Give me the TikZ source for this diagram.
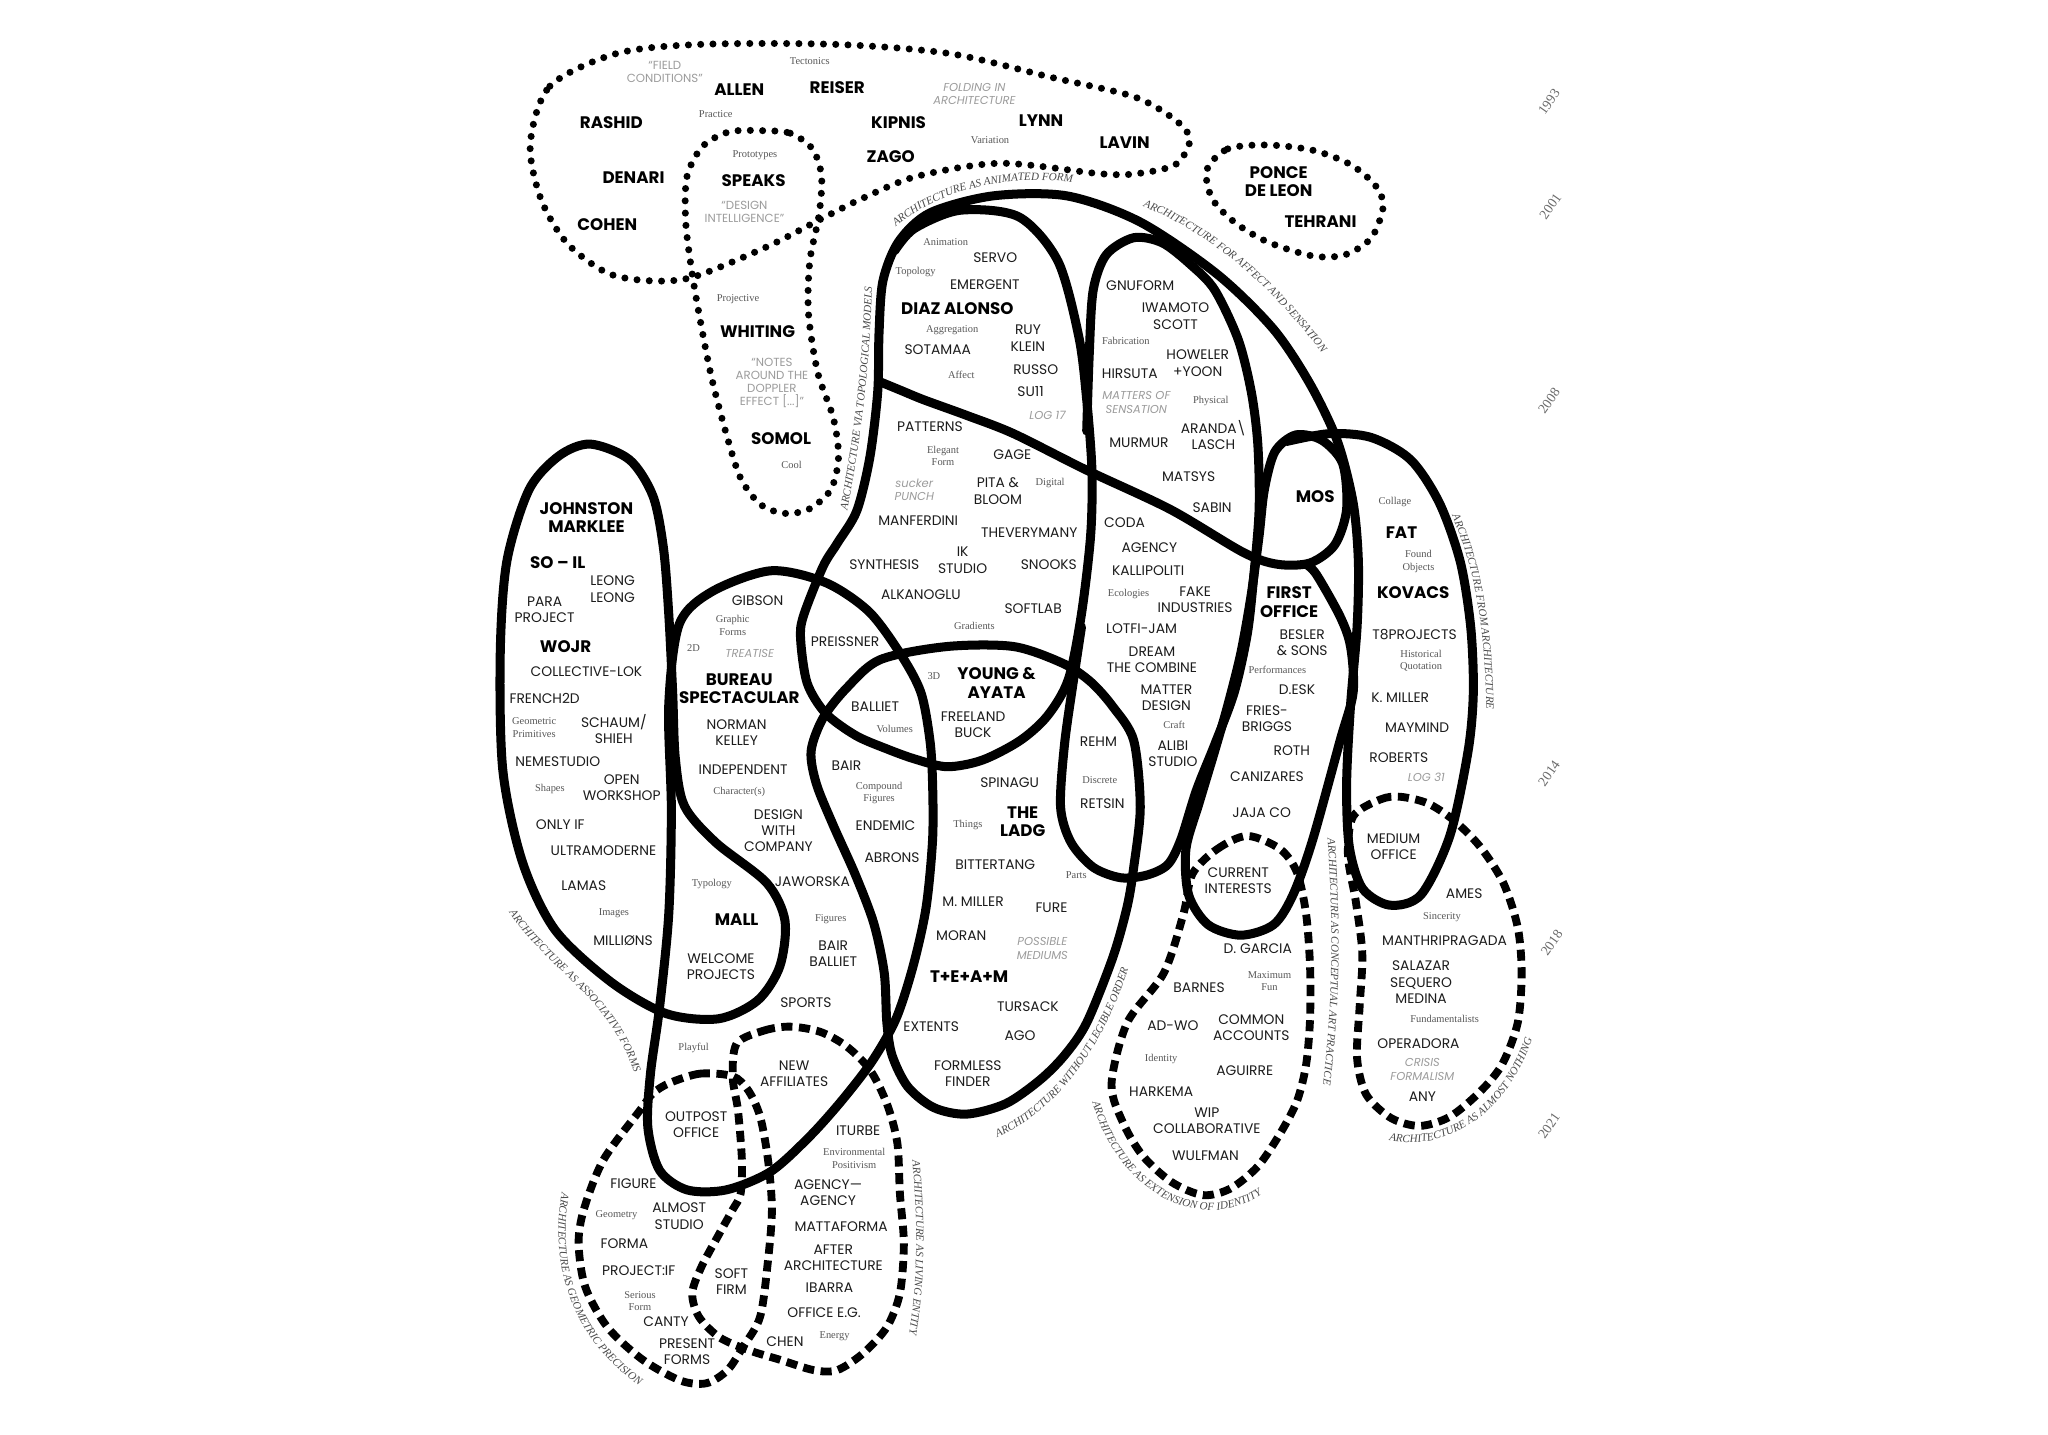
\documentclass[tikz,border=0pt]{standalone}
\usepackage{fontspec}
\usetikzlibrary{decorations.text}
\newfontfamily\popf{Poppins}
\newfontfamily\serf{Liberation Serif}
\definecolor{namec}{HTML}{1C1C1C}
\definecolor{grayl}{HTML}{9C9C9C}
\definecolor{serc}{HTML}{585858}
\definecolor{curvc}{HTML}{4A4A4A}
\definecolor{yearc}{HTML}{6A6A6A}
\newcommand\nmf{\popf\fontsize{10.6}{12.5}\selectfont}
\newcommand\bnf{\popf\bfseries\fontsize{12.8}{14}\selectfont}
\newcommand\srf{\serf\fontsize{8}{9.6}\selectfont}
\newcommand\grf{\popf\fontsize{9}{10}\selectfont}
\newcommand\gif{\popf\itshape\fontsize{8.8}{10.5}\selectfont}
\newcommand\cvf{\serf\itshape\fontsize{8.5}{9}\selectfont}
\newcommand\yrf{\serf\fontsize{10.5}{12}\selectfont}
\tikzset{
  nm/.style={font=\nmf, text=namec, align=center, inner sep=0pt},
  bn/.style={font=\bnf, text=black, align=center, inner sep=0pt},
  sr/.style={font=\srf, text=serc, align=center, inner sep=0pt},
  gr/.style={font=\grf, text=grayl, align=center, inner sep=0pt},
  gi/.style={font=\gif, text=grayl, align=center, inner sep=0pt},
  yr/.style={font=\yrf, text=yearc, rotate=55, inner sep=0pt},
  solidloop/.style={draw=black, line width=6.9pt, line cap=round, line join=round},
  dotloop/.style={draw=black, line width=5.4pt, line cap=round, dash pattern=on 0pt off 9.4pt},
  dashloop/.style={draw=black, line width=6pt, dash pattern=on 8.5pt off 5pt},
  curvelabel/.style={decorate, decoration={text along path, text align=center, text color=curvc, text={|\cvf|#1}}}
}
\begin{document}
\begin{tikzpicture}[x=1pt,y=-1pt]
\fill[white] (0,0) rectangle (1568,1098);
\useasboundingbox (0,0) rectangle (1568,1098);

% ---------- dotted loops ----------
\draw[dotloop] plot[smooth cycle] coordinates {(406,110) (421,66) (472,41) (536,34) (640,34) (727,41) (804,59) (868,74) (900,92) (911,107) (900,126) (870,133) (842,133) (766,125) (702,135) (660,152) (628,168) (587,189) (531,212) (498,215) (465,209) (434,186) (414,152)};
\draw[dotloop] plot[smooth cycle] coordinates {(582,100) (605,102) (622,114) (629,135) (627,165) (620,200) (619,240) (626,285) (638,320) (642,350) (636,375) (619,390) (600,393) (582,386) (567,366) (556,332) (545,290) (537,250) (530,210) (525,170) (526,135) (538,112) (558,101)};
\draw[dotloop] plot[smooth cycle] coordinates {(924,130) (940,114) (970,111) (1005,115) (1034,126) (1053,142) (1059,158) (1050,182) (1030,195) (1005,196) (970,185) (945,170) (928,152)};

% ---------- dashed loops ----------
\draw[dashloop] plot[smooth cycle] coordinates {(913,669) (932,650) (955,640) (980,650) (993,668) (1000,700) (1003,740) (1003,780) (1000,815) (993,843) (980,868) (963,893) (942,910) (921,915) (897,905) (875,885) (860,860) (851,830) (863,783) (891,745) (906,700)};
\draw[dashloop] plot[smooth cycle] coordinates {(1036,625) (1057,612) (1072,610) (1093,615) (1113,628) (1133,648) (1151,676) (1162,710) (1165,745) (1162,783) (1150,815) (1133,836) (1110,855) (1087,862) (1065,856) (1046,838) (1039,810) (1041,770) (1043,730) (1038,690) (1032,655)};
\draw[dashloop] plot[smooth cycle] coordinates {(561,824) (536,822) (513,829) (500,837) (490,850) (462,888) (447,926) (443,952) (448,985) (465,1016) (492,1041) (521,1057) (541,1059) (557,1049) (569,1031) (582,1008) (588,965) (591,926) (588,888) (582,855) (573,835)};
\draw[dashloop] plot[smooth cycle] coordinates {(564,799) (585,789) (605,786) (628,790) (648,801) (666,819) (679,845) (687,875) (689,914) (692,952) (689,990) (679,1016) (661,1036) (641,1049) (623,1049) (597,1041) (574,1034) (551,1024) (535,1008) (530,990) (537,970) (551,944) (561,926) (567,914) (568,888) (565,850) (561,825)};

% ---------- solid loops ----------
\draw[solidloop] plot[smooth cycle] coordinates {(452,340) (482,352) (500,380) (508,420) (512,470) (515,530) (517,580) (524,617) (548,645) (587,676) (601,705) (597,740) (580,766) (550,780) (510,776) (468,752) (425,712) (400,660) (385,590) (383,500) (388,430) (405,375) (428,349)};
\draw[solidloop] plot[smooth cycle] coordinates {(520,478) (545,453) (590,437) (632,446) (665,468) (689,500) (705,530) (712,567) (714,600) (714,643) (709,695) (699,740) (686,780) (668,812) (645,842) (620,870) (590,897) (556,911) (526,911) (505,896) (496,863) (498,822) (505,771) (512,700) (514,620) (512,540)};
\draw[solidloop] plot[smooth cycle] coordinates {(674,505) (725,495) (776,495) (814,508) (835,522) (852,541) (868,567) (873,618) (868,664) (863,694) (852,733) (832,783) (815,808) (796,827) (770,845) (740,853) (715,848) (695,832) (683,808) (679,783) (677,745) (669,707) (655,670) (638,632) (625,600) (621,575) (630,550) (648,527)};
\draw[solidloop] plot[smooth] coordinates {(985,338) (1018,332) (1050,335) (1080,352) (1102,385) (1118,430) (1126,480) (1128,530) (1124,575) (1110,640) (1088,685) (1064,693) (1043,680) (1033,648) (1031,600) (1034,540) (1039,480) (1040,430) (1036,385) (1024,338) (1003,294) (975,252) (932,210) (873,170) (817,150) (760,150) (712,163) (688,185) (676,215) (673,255) (672,300) (666,350) (656,391) (641,416) (630,434) (615,472) (613,490) (618,523) (632,546) (655,563) (678,573) (700,581) (725,587) (752,582) (781,567) (802,548) (818,520) (828,470) (835,410) (836,360) (832,306) (826,258) (810,200) (780,166) (735,161) (700,175) (685,192)};
\draw[solidloop] plot[smooth] coordinates {(673,292) (690,299) (707,306) (740,318) (776,332) (832,360) (896,390) (952,423) (978,432) (1003,431) (1022,417) (1031,390) (1028,355) (1012,337) (992,333) (976,346) (968,375) (964,410) (958,455) (950,500) (940,540) (930,575) (918,615) (908,650) (910,685) (925,708) (950,716) (975,708) (990,685) (1005,643) (1026,567) (1036,530) (1034,495) (1026,472) (1008,440) (1000,432)};
\draw[solidloop] plot[smooth] coordinates {(832,330) (834,270) (837,222) (847,195) (868,182) (890,186) (912,203) (930,222) (948,260) (958,300) (963,340) (964,390) (960,440) (955,485) (945,530) (930,570) (916,605) (904,643) (894,662) (878,670) (858,672) (837,664) (820,645) (812,618) (815,570) (822,520) (828,480)};

% ---------- curved labels ----------
\path[curvelabel={ARCHITECTURE AS ANIMATED FORM}] (670,192) .. controls (700,147) and (775,127) .. (845,144);
\path[curvelabel={ARCHITECTURE FOR AFFECT AND SENSATION}] (852,151) .. controls (917,166) and (982,224) .. (1026,290);
\path[curvelabel={ARCHITECTURE VIA TOPOLOGICAL MODELS}] (645,410) .. controls (659,340) and (667,280) .. (668,200);
\path[curvelabel={ARCHITECTURE FROM ARCHITECTURE}] (1104,380) .. controls (1127,420) and (1139,480) .. (1138,560);
\path[curvelabel={ARCHITECTURE AS ASSOCIATIVE FORMS}] (380,682) .. controls (411,744) and (472,757) .. (491,840);
\path[curvelabel={ARCHITECTURE WITHOUT LEGIBLE ORDER}] (744,878) .. controls (800,862) and (845,812) .. (870,722);
\path[curvelabel={ARCHITECTURE AS CONCEPTUAL ART PRACTICE}] (1015,620) .. controls (1021,700) and (1022,770) .. (1010,852);
\path[curvelabel={ARCHITECTURE AS EXTENSION OF IDENTITY}] (831,815) .. controls (840,912) and (930,964) .. (988,895);
\path[curvelabel={ARCHITECTURE AS ALMOST NOTHING}] (1046,868) .. controls (1098,890) and (1160,858) .. (1178,778);
\path[curvelabel={ARCHITECTURE AS GEOMETRIC PRECISION}] (436,890) .. controls (412,965) and (440,1040) .. (510,1072);
\path[curvelabel={ARCHITECTURE AS LIVING ENTITY}] (696,868) .. controls (703,920) and (705,985) .. (692,1042);

% ---------- years ----------
\node[yr] (y1993) at (1186,78) {1993};
\node[yr] (y2001) at (1187,158) {2001};
\node[yr] (y2008) at (1186,307) {2008};
\node[yr] (y2014) at (1186,592) {2014};
\node[yr] (y2018) at (1188,722) {2018};
\node[yr] (y2021) at (1186,862) {2021};

% ---------- top ----------
\node[gr] (fieldc) at (509,55) {“FIELD\\CONDITIONS”};
\node[sr] (tecto) at (620,47) {Tectonics};
\node[bn] (allen) at (566,69) {ALLEN};
\node[bn] (reiser) at (641,67) {REISER};
\node[gi] (folding) at (746,72) {FOLDING IN\\ARCHITECTURE};
\node[bn] (rashid) at (468,94) {RASHID};
\node[sr] (practice) at (548,87) {Practice};
\node[bn] (kipnis) at (688,94) {KIPNIS};
\node[bn] (lynn) at (797,92) {LYNN};
\node[sr] (variation) at (758,107) {Variation};
\node[bn] (lavin) at (861,109) {LAVIN};
\node[bn] (zago) at (682,120) {ZAGO};
\node[sr] (prototypes) at (578,119) {Prototypes};
\node[bn] (speaks) at (577,138) {SPEAKS};
\node[bn] (denari) at (485,136) {DENARI};
\node[gr] (designint) at (570,162) {“DESIGN\\INTELLIGENCE”};
\node[bn] (cohen) at (465,172) {COHEN};
\node[bn] (ponce) at (979,139) {PONCE\\DE LEON};
\node[bn] (tehrani) at (1011,170) {TEHRANI};
\node[sr] (projective) at (565,229) {Projective};
\node[bn] (whiting) at (580,254) {WHITING};
\node[gr] (notes) at (591,293) {“NOTES\\AROUND THE\\DOPPLER\\EFFECT [...]”};
\node[bn] (somol) at (598,336) {SOMOL};
\node[sr] (cool) at (606,356) {Cool};

% ---------- animated form ----------
\node[sr] (animation) at (724,185) {Animation};
\node[nm] (servo) at (762,197) {SERVO};
\node[sr] (topology) at (701,208) {Topology};
\node[nm] (emergent) at (754,218) {EMERGENT};
\node[bn] (diaz) at (733,236) {DIAZ ALONSO};
\node[sr] (aggregation) at (729,253) {Aggregation};
\node[nm] (ruyklein) at (787,259) {RUY\\KLEIN};
\node[nm] (sotamaa) at (718,268) {SOTAMAA};
\node[nm] (russo) at (793,283) {RUSSO};
\node[sr] (affect) at (736,287) {Affect};
\node[nm] (su11) at (789,300) {SU11};
\node[gi] (log17) at (802,318) {LOG 17};
\node[nm] (patterns) at (712,327) {PATTERNS};
\node[sr] (elegant) at (722,349) {Elegant\\Form};
\node[nm] (gage) at (775,348) {GAGE};
\node[gi] (sucker) at (700,375) {sucker\\PUNCH};
\node[nm] (pita) at (764,376) {PITA \&\\BLOOM};
\node[sr] (digital) at (804,370) {Digital};
\node[nm] (manferdini) at (703,399) {MANFERDINI};
\node[nm] (theverymany) at (788,408) {THEVERYMANY};
\node[nm] (ikstudio) at (737,429) {IK\\STUDIO};
\node[nm] (synthesis) at (677,432) {SYNTHESIS};
\node[nm] (snooks) at (803,432) {SNOOKS};
\node[nm] (alkanoglu) at (705,455) {ALKANOGLU};
\node[nm] (softlab) at (791,466) {SOFTLAB};
\node[sr] (gradients) at (746,479) {Gradients};

% ---------- affect and sensation ----------
\node[nm] (gnuform) at (873,219) {GNUFORM};
\node[nm] (iwamoto) at (900,242) {IWAMOTO\\SCOTT};
\node[sr] (fabrication) at (862,261) {Fabrication};
\node[nm] (howeler) at (917,278) {HOWELER\\+YOON};
\node[nm] (hirsuta) at (865,286) {HIRSUTA};
\node[gi] (matters) at (870,308) {MATTERS OF\\SENSATION};
\node[sr] (physical) at (927,307) {Physical};
\node[nm] (aranda) at (929,333) {ARANDA\textbackslash\\LASCH};
\node[nm] (murmur) at (872,339) {MURMUR};
\node[nm] (matsys) at (910,365) {MATSYS};
\node[nm] (sabin) at (928,389) {SABIN};
\node[nm] (coda) at (861,400) {CODA};
\node[nm] (agency) at (880,419) {AGENCY};
\node[nm] (kallipoliti) at (879,437) {KALLIPOLITI};
\node[sr] (ecologies) at (864,455) {Ecologies};
\node[nm] (fake) at (915,459) {FAKE\\INDUSTRIES};
\node[nm] (lotfi) at (874,481) {LOTFI-JAM};
\node[nm] (dream) at (882,505) {DREAM\\THE COMBINE};
\node[nm] (matterd) at (893,534) {MATTER\\DESIGN};
\node[sr] (craft) at (899,555) {Craft};
\node[nm] (alibi) at (898,577) {ALIBI\\STUDIO};
\node[nm] (rehm) at (841,568) {REHM};
\node[sr] (discrete) at (842,597) {Discrete};
\node[nm] (retsin) at (844,615) {RETSIN};

% ---------- MOS / first office / FAT ----------
\node[bn] (mos) at (1007,380) {MOS};
\node[sr] (collage) at (1068,384) {Collage};
\node[bn] (fat) at (1073,408) {FAT};
\node[sr] (found) at (1086,430) {Found\\Objects};
\node[bn] (firstoffice) at (987,461) {FIRST\\OFFICE};
\node[bn] (kovacs) at (1082,454) {KOVACS};
\node[nm] (besler) at (997,492) {BESLER\\\& SONS};
\node[nm] (t8) at (1083,486) {T8PROJECTS};
\node[sr] (historical) at (1088,506) {Historical\\Quotation};
\node[sr] (performances) at (978,513) {Performances};
\node[nm] (desk) at (993,528) {D.ESK};
\node[nm] (kmiller) at (1072,534) {K. MILLER};
\node[nm] (fries) at (970,550) {FRIES-\\BRIGGS};
\node[nm] (maymind) at (1085,557) {MAYMIND};
\node[nm] (roth) at (989,575) {ROTH};
\node[nm] (roberts) at (1071,580) {ROBERTS};
\node[gi] (log31) at (1092,595) {LOG 31};
\node[nm] (canizares) at (970,595) {CANIZARES};
\node[nm] (jaja) at (966,622) {JAJA CO};
\node[nm] (medium) at (1067,648) {MEDIUM\\OFFICE};
\node[nm] (current) at (948,674) {CURRENT\\INTERESTS};
\node[nm] (ames) at (1121,684) {AMES};
\node[sr] (sincerity) at (1104,702) {Sincerity};
\node[nm] (dgarcia) at (963,726) {D. GARCIA};
\node[nm] (manthri) at (1106,720) {MANTHRIPRAGADA};
\node[sr] (maxfun) at (972,751) {Maximum\\Fun};
\node[nm] (barnes) at (918,756) {BARNES};
\node[nm] (salazar) at (1088,752) {SALAZAR\\SEQUERO\\MEDINA};
\node[nm] (adwo) at (898,785) {AD-WO};
\node[nm] (common) at (958,787) {COMMON\\ACCOUNTS};
\node[sr] (fundam) at (1106,780) {Fundamentalists};
\node[nm] (operadora) at (1086,799) {OPERADORA};
\node[sr] (identity) at (889,811) {Identity};
\node[gi] (crisis) at (1089,819) {CRISIS\\FORMALISM};
\node[nm] (aguirre) at (953,820) {AGUIRRE};
\node[nm] (harkema) at (889,836) {HARKEMA};
\node[nm] (any) at (1089,840) {ANY};
\node[nm] (wip) at (924,858) {WIP\\COLLABORATIVE};
\node[nm] (wulfman) at (923,885) {WULFMAN};

% ---------- associative forms ----------
\node[bn] (johnston) at (449,396) {JOHNSTON\\MARKLEE};
\node[bn] (soil) at (427,431) {SO – IL};
\node[nm] (leong) at (469,451) {LEONG\\LEONG};
\node[nm] (para) at (417,467) {PARA\\PROJECT};
\node[bn] (wojr) at (433,495) {WOJR};
\node[nm] (collective) at (449,514) {COLLECTIVE-LOK};
\node[nm] (french) at (417,535) {FRENCH2D};
\node[sr] (geomprim) at (409,557) {Geometric\\Primitives};
\node[nm] (schaum) at (470,558) {SCHAUM/\\SHIEH};
\node[nm] (nemestudio) at (427,583) {NEMESTUDIO};
\node[sr] (shapes) at (421,604) {Shapes};
\node[nm] (openws) at (476,603) {OPEN\\WORKSHOP};
\node[nm] (onlyif) at (429,631) {ONLY IF};
\node[nm] (ultra) at (462,651) {ULTRAMODERNE};
\node[nm] (lamas) at (447,678) {LAMAS};
\node[sr] (images) at (470,699) {Images};
\node[nm] (millions) at (477,720) {MILLIØNS};

% ---------- bureau spectacular ----------
\node[nm] (gibson) at (580,460) {GIBSON};
\node[sr] (graphic) at (561,479) {Graphic\\Forms};
\node[sr] (twod) at (531,496) {2D};
\node[gi] (treatise) at (574,500) {TREATISE};
\node[bn] (bureau) at (566,527) {BUREAU\\SPECTACULAR};
\node[nm] (preissner) at (647,491) {PREISSNER};
\node[nm] (norman) at (564,561) {NORMAN\\KELLEY};
\node[nm] (independent) at (569,589) {INDEPENDENT};
\node[sr] (characters) at (566,606) {Character(s)};
\node[nm] (designwc) at (596,636) {DESIGN\\WITH\\COMPANY};
\node[sr] (typology) at (545,677) {Typology};
\node[nm] (jaworska) at (622,675) {JAWORSKA};
\node[bn] (mall) at (564,704) {MALL};
\node[sr] (figures) at (636,704) {Figures};
\node[nm] (welcome) at (552,740) {WELCOME\\PROJECTS};
\node[nm] (bairballiet) at (638,730) {BAIR\\BALLIET};
\node[nm] (sports) at (617,768) {SPORTS};
\node[sr] (playful) at (531,802) {Playful};

% ---------- young & ayata / legible order ----------
\node[nm] (balliet) at (670,541) {BALLIET};
\node[sr] (threed) at (715,518) {3D};
\node[bn] (young) at (763,523) {YOUNG \&\\AYATA};
\node[sr] (volumes) at (685,558) {Volumes};
\node[nm] (freeland) at (745,555) {FREELAND\\BUCK};
\node[nm] (bair) at (648,586) {BAIR};
\node[sr] (compound) at (673,607) {Compound\\Figures};
\node[nm] (spinagu) at (773,599) {SPINAGU};
\node[sr] (things) at (741,632) {Things};
\node[bn] (ladg) at (783,629) {THE\\LADG};
\node[nm] (endemic) at (678,632) {ENDEMIC};
\node[nm] (abrons) at (683,657) {ABRONS};
\node[nm] (bittertang) at (762,662) {BITTERTANG};
\node[sr] (parts) at (824,670) {Parts};
\node[nm] (mmiller) at (745,690) {M. MILLER};
\node[nm] (fure) at (805,695) {FURE};
\node[nm] (moran) at (736,716) {MORAN};
\node[gi] (possible) at (798,726) {POSSIBLE\\MEDIUMS};
\node[bn] (team) at (742,748) {T+E+A+M};
\node[nm] (tursack) at (787,771) {TURSACK};
\node[nm] (extents) at (713,786) {EXTENTS};
\node[nm] (ago) at (781,793) {AGO};
\node[nm] (formless) at (741,822) {FORMLESS\\FINDER};

% ---------- bottom ----------
\node[nm] (newaff) at (608,822) {NEW\\AFFILIATES};
\node[nm] (outpost) at (533,861) {OUTPOST\\OFFICE};
\node[nm] (iturbe) at (657,866) {ITURBE};
\node[sr] (environ) at (654,887) {Environmental\\Positivism};
\node[nm] (figure) at (485,906) {FIGURE};
\node[nm] (agencyag) at (634,913) {AGENCY—\\AGENCY};
\node[sr] (geometry) at (472,930) {Geometry};
\node[nm] (almost) at (520,931) {ALMOST\\STUDIO};
\node[nm] (mattaforma) at (644,939) {MATTAFORMA};
\node[nm] (forma) at (478,952) {FORMA};
\node[nm] (afterarch) at (638,963) {AFTER\\ARCHITECTURE};
\node[nm] (projectif) at (489,973) {PROJECT:IF};
\node[nm] (softfirm) at (560,981) {SOFT\\FIRM};
\node[nm] (ibarra) at (635,986) {IBARRA};
\node[sr] (serious) at (490,996) {Serious\\Form};
\node[nm] (canty) at (510,1012) {CANTY};
\node[nm] (officeeg) at (631,1005) {OFFICE E.G.};
\node[nm] (present) at (526,1035) {PRESENT\\FORMS};
\node[nm] (chen) at (601,1027) {CHEN};
\node[sr] (energy) at (639,1023) {Energy};
\end{tikzpicture}
\end{document}
